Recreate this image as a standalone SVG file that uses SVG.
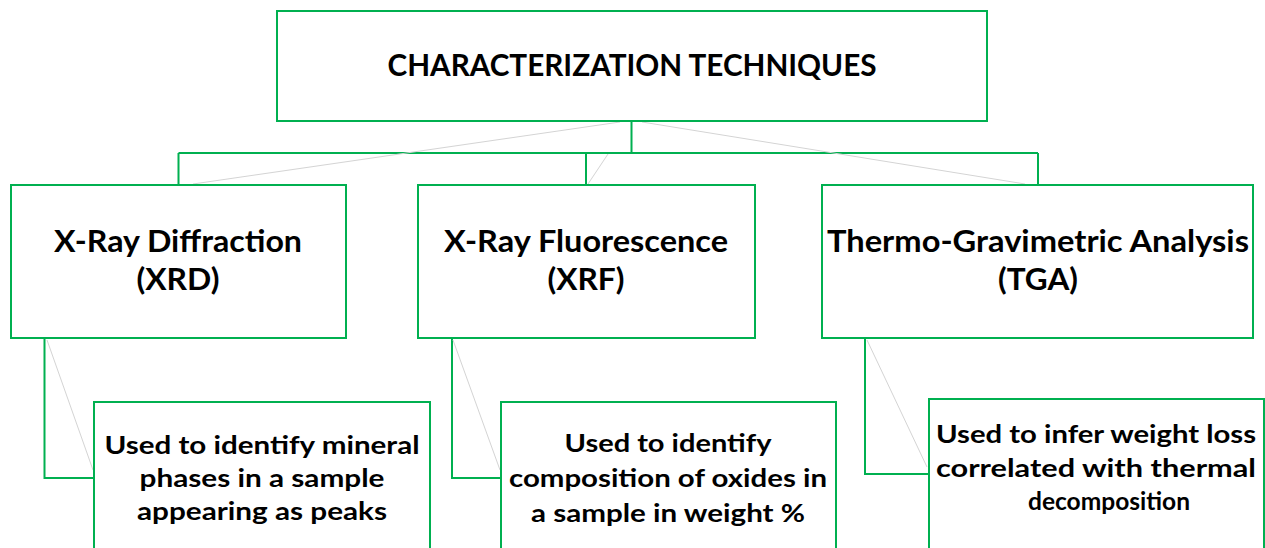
<svg xmlns="http://www.w3.org/2000/svg" width="1265" height="548" viewBox="0 0 1265 548">
<style>
.box{fill:#fff;stroke:#00B050;stroke-width:2}
.shadow{fill:none;stroke:#b0b0b0;stroke-width:1}
.conn{fill:none;stroke:#00B050;stroke-width:2}
.faint{fill:none;stroke:#d4d4d4;stroke-width:1}
text{font-family:Lato,"Liberation Sans",Arial,sans-serif;font-weight:700;fill:#000;text-anchor:middle}
.t0{font-size:31px}
.t1{font-size:30px}
.t2{font-size:25px}
</style>
<rect width="1265" height="548" fill="#fff"/>
<g id="connectors">
<path class="conn" d="M631.5 121 V153 M178.5 153 H1038 M178.5 153 V185 M586 153 V185 M1038 153 V185"/>
<path class="conn" d="M44.5 338 V478 H94 M452 338 V478 H501 M865 338 V474 H929"/>
<path class="faint" d="M620 122 L193 184 M642 122 L1025 184 M608 154 L588 184 M47 340 L93 470 M453 340 L500 470 M867 340 L927 467"/>
</g>
<g id="root">
<rect class="box" x="277" y="11" width="710" height="110"/>
<text class="t0" x="632" y="76" textLength="489" lengthAdjust="spacingAndGlyphs">CHARACTERIZATION TECHNIQUES</text>
</g>
<g id="xrd">
<rect class="box" x="11" y="185" width="335" height="153"/>
<text class="t1" x="178" y="252" textLength="248" lengthAdjust="spacingAndGlyphs">X-Ray Diffraction</text>
<text class="t1" x="178" y="290" textLength="83" lengthAdjust="spacingAndGlyphs">(XRD)</text>
</g>
<g id="xrf">
<rect class="box" x="418" y="185" width="337" height="153"/>
<text class="t1" x="586" y="252" textLength="284" lengthAdjust="spacingAndGlyphs">X-Ray Fluorescence</text>
<text class="t1" x="586" y="290" textLength="77" lengthAdjust="spacingAndGlyphs">(XRF)</text>
</g>
<g id="tga">
<rect class="box" x="822" y="185" width="431" height="153"/>
<text class="t1" x="1038" y="252" textLength="422" lengthAdjust="spacingAndGlyphs">Thermo-Gravimetric Analysis</text>
<text class="t1" x="1038" y="290" textLength="80" lengthAdjust="spacingAndGlyphs">(TGA)</text>
</g>
<g id="xrd-desc">
<rect class="box" x="94" y="402" width="336" height="160"/>
<text class="t2" x="262" y="454" textLength="315" lengthAdjust="spacingAndGlyphs">Used to identify mineral</text>
<text class="t2" x="262" y="487" textLength="245" lengthAdjust="spacingAndGlyphs">phases in a sample</text>
<text class="t2" x="262" y="520" textLength="250" lengthAdjust="spacingAndGlyphs">appearing as peaks</text>
</g>
<g id="xrf-desc">
<rect class="box" x="501" y="402" width="335" height="160"/>
<text class="t2" x="668" y="452" textLength="207" lengthAdjust="spacingAndGlyphs">Used to identify</text>
<text class="t2" x="668" y="487" textLength="318" lengthAdjust="spacingAndGlyphs">composition of oxides in</text>
<text class="t2" x="668" y="522" textLength="274" lengthAdjust="spacingAndGlyphs">a sample in weight %</text>
</g>
<g id="tga-desc">
<rect class="box" x="929" y="399" width="335" height="163"/>
<text class="t2" x="1096" y="443" textLength="320" lengthAdjust="spacingAndGlyphs">Used to infer weight loss</text>
<text class="t2" x="1096" y="477" textLength="320" lengthAdjust="spacingAndGlyphs">correlated with thermal</text>
<text class="t2" x="1109" y="510" textLength="162" lengthAdjust="spacingAndGlyphs">decomposition</text>
</g>
</svg>
